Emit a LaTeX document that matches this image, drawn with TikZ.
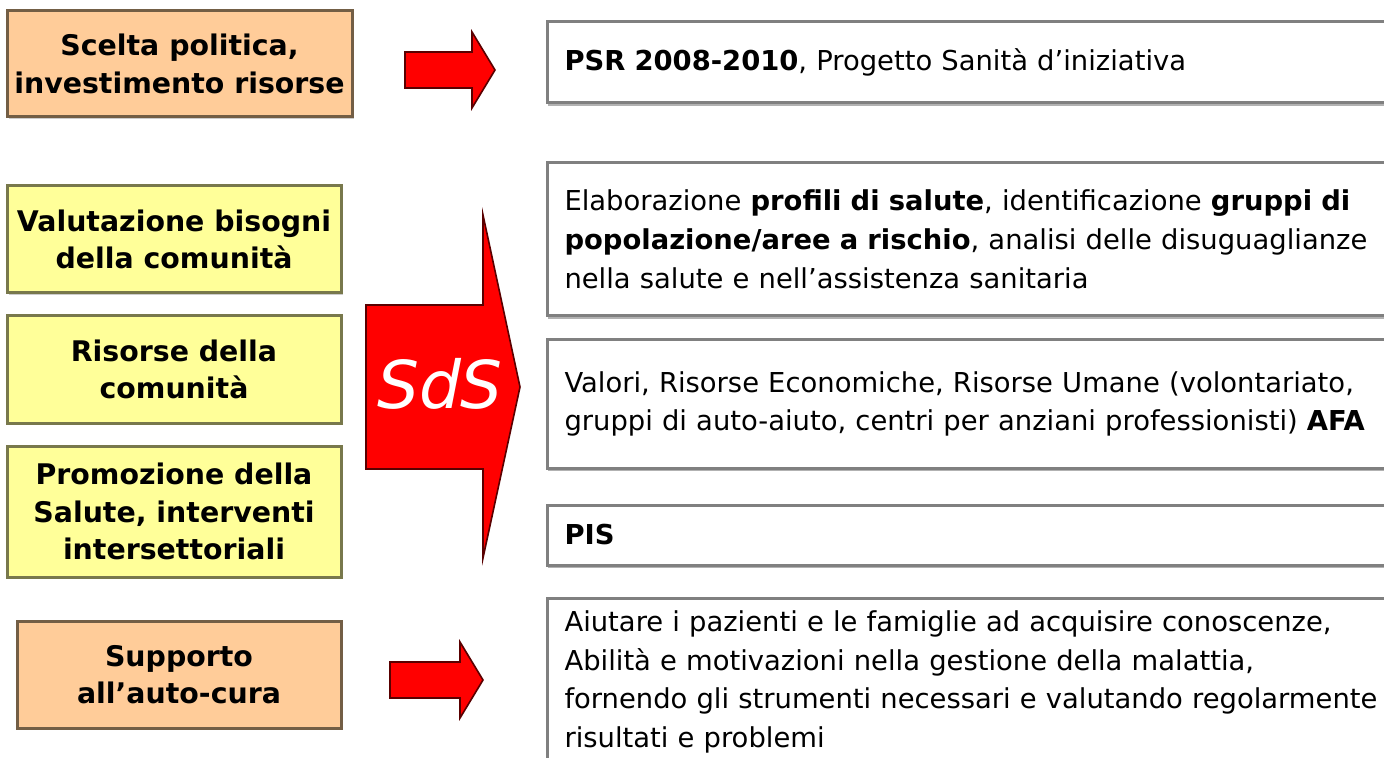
\documentclass[tikz,border=0pt]{standalone}
\usepackage{fontspec}
\setmainfont{DejaVu Sans}
\usetikzlibrary{shadows}

\begin{document}
\begin{tikzpicture}[x=1pt,y=-1pt]
      \newcommand{\rx}[0]{273}
      \newcommand{\rw}[0]{440pt}

      \definecolor{peachfill}{rgb}{1.0,0.8,0.6}
      \definecolor{peachline}{rgb}{0.45,0.37,0.27}
      \definecolor{yellowfill}{rgb}{1.0,1.0,0.6}
      \definecolor{yellowline}{rgb}{0.47,0.47,0.3}
      \definecolor{arrowline}{rgb}{0.35,0.0,0.0}

      \tikzstyle{leftbox}=[
        draw,
        line width=1.5pt,
        align=center,
        inner sep=0pt,
        font=\bfseries\fontsize{14.2}{18.8}\selectfont,
        drop shadow={shadow xshift=0.8pt, shadow yshift=-1.2pt, fill=black!20, opacity=1}
      ]
      \tikzstyle{peach}=[leftbox, draw=peachline, fill=peachfill]
      \tikzstyle{yellow}=[leftbox, draw=yellowline, fill=yellowfill]
      \tikzstyle{rightbox}=[
        draw=black!50,
        fill=white,
        line width=1.5pt,
        anchor=west,
        align=left,
        text width=\rw-17pt,
        minimum width=\rw,
        inner xsep=8.5pt,
        inner ysep=0pt,
        font=\fontsize{13.7}{19.4}\selectfont,
        drop shadow={shadow xshift=0pt, shadow yshift=-1.5pt, fill=black!30, opacity=1}
      ]
      \tikzstyle{blockarrow}=[fill=red, draw=arrowline, line width=0.8pt, line join=miter]

      \useasboundingbox (0,0) rectangle (692,379);
      \clip (0,0) rectangle (692,379);

      % left column
      \node[peach, minimum width=172.5pt, minimum height=53pt]    (scelta)      at (89.75,32)    {Scelta politica,\\investimento risorse};
      \node[yellow, minimum width=167pt, minimum height=53.5pt]   (valutazione) at (87,119.75)   {Valutazione bisogni\\della comunità};
      \node[yellow, minimum width=167pt, minimum height=53.5pt]   (risorse)     at (87,184.75)   {Risorse della\\comunità};
      \node[yellow, minimum width=167pt, minimum height=65.5pt]   (promozione)  at (87,255.75)   {Promozione della\\Salute, interventi\\intersettoriali};
      \node[peach, minimum width=162pt, minimum height=53.5pt]    (supporto)    at (89.5,337.25) {Supporto\\all’auto-cura};

      % right column
      \node[rightbox, minimum height=40.5pt] (psr) at (\rx,31.25)
        {\textbf{PSR 2008-2010}, Progetto Sanità d’iniziativa};
      \node[rightbox, minimum height=76.5pt] (elaborazione) at (\rx,119.75)
        {Elaborazione \textbf{profili di salute}, identificazione \textbf{gruppi di}\\
         \textbf{popolazione/aree a rischio}, analisi delle disuguaglianze\\
         nella salute e nell’assistenza sanitaria};
      \node[rightbox, minimum height=64pt] (valori) at (\rx,202)
        {Valori, Risorse Economiche, Risorse Umane (volontariato,\\
         gruppi di auto-aiuto, centri per anziani professionisti) \textbf{AFA}};
      \node[rightbox, minimum height=30pt] (pis) at (\rx,267.5) {\textbf{PIS}};
      \node[rightbox, anchor=north west, inner ysep=6pt] (aiutare) at (\rx,298.5)
        {Aiutare i pazienti e le famiglie ad acquisire conoscenze,\\
         Abilità e motivazioni nella gestione della malattia,\\
         fornendo gli strumenti necessari e valutando regolarmente\\
         risultati e problemi\\
         \rule{0pt}{25pt}};

      % block arrows
      \draw[blockarrow] (202.5,26) -- (236,26) -- (236,16) -- (247.5,35)
        -- (236,54) -- (236,44) -- (202.5,44) -- cycle;
      \draw[blockarrow] (183,152.5) -- (241.5,152.5) -- (241.5,107.5) -- (260,193.5)
        -- (241.5,279) -- (241.5,234.5) -- (183,234.5) -- cycle;
      \draw[blockarrow] (195,331) -- (230,331) -- (230,321) -- (241.5,340)
        -- (230,359) -- (230,349) -- (195,349) -- cycle;
      \node[text=white, font=\itshape\fontsize{33}{33}\selectfont] (sds) at (220,192) {SdS};
    \end{tikzpicture}
\end{document}
